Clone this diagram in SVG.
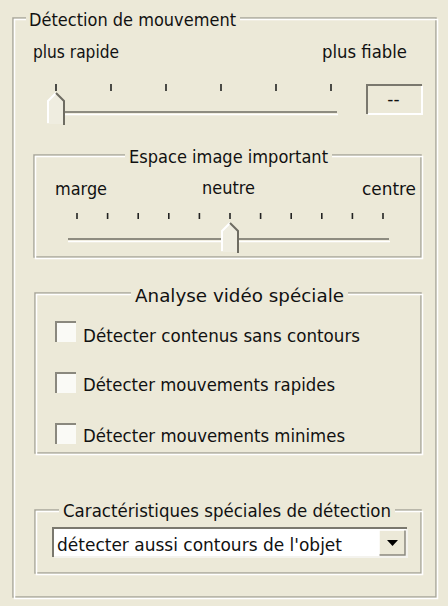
<svg xmlns="http://www.w3.org/2000/svg" width="448" height="606" viewBox="0 0 448 606">
<style>
text{font-family:"DejaVu Sans","Liberation Sans",sans-serif;font-size:17px;fill:#111}
.eg{fill:none;stroke:#A8A69A;stroke-width:1.5}
.ew{fill:none;stroke:#FFFFFF;stroke-width:1.5}
.tick{stroke:#222;stroke-width:1.6}
.trd{stroke:#8E8C80;stroke-width:2.2}
.trw{stroke:#FFFFFF;stroke-width:1.5}
.hi{fill:none;stroke:#FFFFFF;stroke-width:2}
.sh{fill:none;stroke:#6E6C62;stroke-width:2}
.cbox{fill:#FAFAF6}
.cbd{fill:none;stroke:#8A887E;stroke-width:2}
</style>
<rect x="0" y="0" width="448" height="606" fill="#ECE9D8"/>

<g id="grp-detection">
  <path class="eg" d="M26 18 H13 V597 H436 V18 H240"/>
  <path class="ew" d="M26 19.5 H14.5 V598.5 H437.5 V19.5 H240"/>
  <text x="29" y="26" textLength="207" lengthAdjust="spacingAndGlyphs">Détection de mouvement</text>
</g>

<g id="slider-speed">
  <text x="33" y="58" textLength="86" lengthAdjust="spacingAndGlyphs">plus rapide</text>
  <text x="322" y="58" textLength="85" lengthAdjust="spacingAndGlyphs">plus fiable</text>
  <g class="tick">
    <line x1="56" y1="84" x2="56" y2="91"/>
    <line x1="111" y1="84" x2="111" y2="91"/>
    <line x1="166" y1="84" x2="166" y2="91"/>
    <line x1="221" y1="84" x2="221" y2="91"/>
    <line x1="276" y1="84" x2="276" y2="91"/>
    <line x1="331" y1="84" x2="331" y2="91"/>
  </g>
  <line class="trd" x1="50" y1="112" x2="337" y2="112"/>
  <line class="trw" x1="50" y1="114.5" x2="338" y2="114.5"/>
  <polygon points="47,124 47,101 56,92 65,101 65,124" fill="#EFEDE0"/>
  <polyline class="hi" points="48,123 48,101 56,93"/>
  <polyline class="sh" points="56,93 64,101 64,125"/>
</g>

<g id="value-box">
  <rect x="367" y="85" width="55" height="29" fill="#ECE9D8"/>
  <path d="M367 114 V85 H422" fill="none" stroke="#7A786E" stroke-width="2"/>
  <path d="M368 114 H422 V86" fill="none" stroke="#FFFFFF" stroke-width="2"/>
  <text x="393.5" y="105" text-anchor="middle">--</text>
</g>

<g id="grp-espace">
  <path class="eg" d="M125 155 H34 V257 H421 V155 H332"/>
  <path class="ew" d="M125 156.5 H35.5 V258.5 H422.5 V156.5 H332"/>
  <text x="129" y="163" textLength="199" lengthAdjust="spacingAndGlyphs">Espace image important</text>
</g>

<g id="slider-espace">
  <text x="55" y="195" textLength="52" lengthAdjust="spacingAndGlyphs">marge</text>
  <text x="202" y="194" textLength="53" lengthAdjust="spacingAndGlyphs">neutre</text>
  <text x="362" y="195" textLength="54" lengthAdjust="spacingAndGlyphs">centre</text>
  <g class="tick">
    <line x1="77" y1="213" x2="77" y2="219"/>
    <line x1="107.6" y1="213" x2="107.6" y2="219"/>
    <line x1="138.2" y1="213" x2="138.2" y2="219"/>
    <line x1="168.8" y1="213" x2="168.8" y2="219"/>
    <line x1="199.4" y1="213" x2="199.4" y2="219"/>
    <line x1="230" y1="213" x2="230" y2="219"/>
    <line x1="260.6" y1="213" x2="260.6" y2="219"/>
    <line x1="291.2" y1="213" x2="291.2" y2="219"/>
    <line x1="321.8" y1="213" x2="321.8" y2="219"/>
    <line x1="352.4" y1="213" x2="352.4" y2="219"/>
    <line x1="383" y1="213" x2="383" y2="219"/>
  </g>
  <line class="trd" x1="68" y1="239" x2="389" y2="239"/>
  <line class="trw" x1="68" y1="241.5" x2="390" y2="241.5"/>
  <polygon points="221,252 221,231 230,222 239,231 239,252" fill="#EFEDE0"/>
  <polyline class="hi" points="222,251 222,231 230,223"/>
  <polyline class="sh" points="230,223 238,231 238,253"/>
</g>

<g id="grp-analyse">
  <path class="eg" d="M131 293 H35 V453 H421 V293 H348"/>
  <path class="ew" d="M131 294.5 H36.5 V454.5 H422.5 V294.5 H348"/>
  <text x="135" y="302" textLength="209" lengthAdjust="spacingAndGlyphs">Analyse vidéo spéciale</text>
</g>

<g id="chk-contenus">
  <rect class="cbox" x="55" y="321" width="21" height="21"/>
  <path class="cbd" d="M56 342 V322 H76"/>
  <text x="83" y="342" textLength="277" lengthAdjust="spacingAndGlyphs">Détecter contenus sans contours</text>
</g>
<g id="chk-rapides">
  <rect class="cbox" x="55" y="372" width="21" height="21"/>
  <path class="cbd" d="M56 393 V373 H76"/>
  <text x="83" y="391" textLength="252" lengthAdjust="spacingAndGlyphs">Détecter mouvements rapides</text>
</g>
<g id="chk-minimes">
  <rect class="cbox" x="55" y="423" width="21" height="21"/>
  <path class="cbd" d="M56 444 V424 H76"/>
  <text x="83" y="442" textLength="262" lengthAdjust="spacingAndGlyphs">Détecter mouvements minimes</text>
</g>

<g id="grp-caracteristiques">
  <path class="eg" d="M59 510 H35 V573 H421 V510 H395"/>
  <path class="ew" d="M59 511.5 H36.5 V574.5 H422.5 V511.5 H395"/>
  <text x="63" y="517" textLength="328" lengthAdjust="spacingAndGlyphs">Caractéristiques spéciales de détection</text>
</g>

<g id="combo">
  <rect x="53" y="528" width="354" height="29" fill="#FFFFFF"/>
  <path d="M53 557 V528 H407" fill="none" stroke="#7A786E" stroke-width="2"/>
  <path d="M54 557 H407 V529" fill="none" stroke="#F4F3EE" stroke-width="2"/>
  <rect x="379" y="530" width="26" height="25" fill="#ECE9D8"/>
  <path d="M379 555 V530 H405" fill="none" stroke="#FFFFFF" stroke-width="1.5"/>
  <path d="M379.5 555 H405 V530.5" fill="none" stroke="#8A887E" stroke-width="1.5"/>
  <polygon points="387,540 398,540 392.5,546" fill="#000"/>
  <text x="57" y="551" textLength="285" lengthAdjust="spacingAndGlyphs">détecter aussi contours de l'objet</text>
</g>
</svg>
